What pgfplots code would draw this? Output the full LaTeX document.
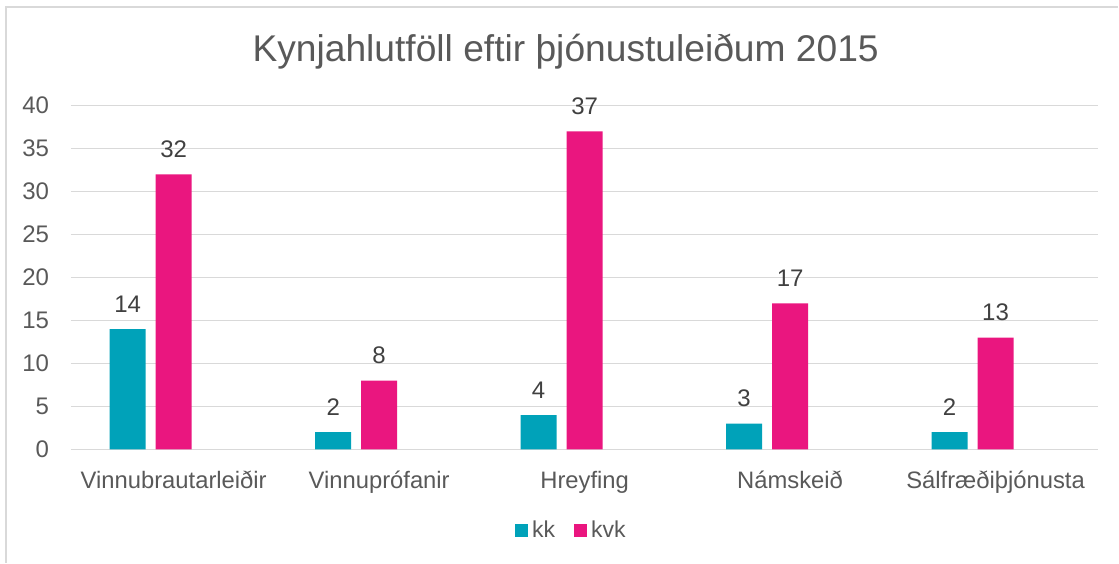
\documentclass[border=0pt]{standalone}
\usepackage{fontspec}
\setmainfont{Liberation Sans}
\usepackage{pgfplots}
\pgfplotsset{compat=1.18}

\definecolor{kk}{HTML}{00A2B9}
\definecolor{kvk}{HTML}{EA167F}
\definecolor{gridgray}{HTML}{D9D9D9}
\definecolor{txtgray}{HTML}{595959}
\definecolor{lblgray}{HTML}{404040}

\begin{document}
\begin{tikzpicture}
% page frame and chart border
\path (0pt,0pt) rectangle (559.5pt,281.5pt);
\draw[gridgray, line width=0.7pt] (3pt,0pt) -- (3pt,278pt) -- (559.5pt,278pt);

\node[anchor=base, text=txtgray, font=\fontsize{18.6}{22}\selectfont] at (283pt,250.5pt)
  {Kynjahlutföll eftir þjónustuleiðum 2015};

\begin{axis}[
  at={(35.5pt,56.65pt)}, anchor=south west,
  scale only axis, width=514pt, height=172pt,
  ybar, bar width=18pt,
  xmin=-0.5, xmax=4.5, ymin=0, ymax=40,
  ytick={0,5,...,40},
  xtick={0,1,2,3,4},
  xticklabels={Vinnubrautarleiðir,Vinnuprófanir,Hreyfing,Námskeið,Sálfræðiþjónusta},
  ymajorgrids, grid style={gridgray, line width=0.8pt},
  axis line style={draw=none},
  major tick length=0pt,
  /pgf/number format/assume math mode=true,
  xticklabel style={anchor=base, yshift=-19.5pt, text=txtgray, font=\fontsize{11.9}{14}\selectfont},
  yticklabel style={anchor=east, inner sep=0pt, xshift=-10.75pt, text=txtgray, font=\fontsize{12}{14}\selectfont},
  nodes near coords,
  every node near coord/.append style={anchor=base, yshift=8.5pt, inner sep=0pt, text=lblgray, font=\fontsize{12}{14}\selectfont},
  legend columns=2,
  legend image code/.code={\fill[#1] (0pt,-3.25pt) rectangle (6.5pt,3.25pt);},
  legend style={at={(0.488,-0.235)}, anchor=center, draw=none, fill=none,
    text=txtgray, font=\fontsize{11.5}{13}\selectfont,
    /tikz/every even column/.append style={column sep=7.5pt}},
]
\addplot[fill=kk, draw=none, bar shift=-23pt] coordinates {(0,14) (1,2) (2,4) (3,3) (4,2)};
\addlegendentry{kk}
\addplot[fill=kvk, draw=none, bar shift=0pt] coordinates {(0,32) (1,8) (2,37) (3,17) (4,13)};
\addlegendentry{kvk}
\end{axis}
\end{tikzpicture}
\end{document}
